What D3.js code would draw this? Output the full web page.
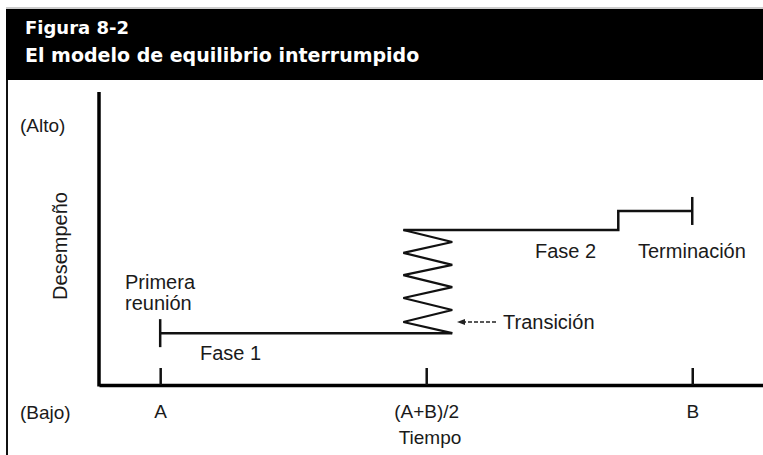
<!DOCTYPE html>
<html>
<head>
<meta charset="utf-8">
<script src="https://cdn.jsdelivr.net/npm/d3@7"></script>
<style>
  body { margin: 0; background: #fff; }
  svg text { font-family: "Liberation Sans", Arial, sans-serif; fill: #1a1a1a; }
</style>
</head>
<body>
<div id="chart"></div>
<script>
// time: A = 0, B = 1 ; performance: 0 (bajo) .. 1 (alto)
var tickValues = [0, 0.5, 1];
var tickLabels = ["A", "(A+B)/2", "B"];

var fase1 = [
  {t: 0, p: 0.177},
  {t: 0.549, p: 0.177}
];
var transicionT = [0.457, 0.549, 0.457, 0.549, 0.457, 0.549, 0.457, 0.549, 0.457, 0.549];
var transicionP = [0.529, 0.488, 0.451, 0.410, 0.375, 0.334, 0.297, 0.256, 0.215, 0.177];
var fase2 = [
  {t: 0.457, p: 0.529},
  {t: 0.861, p: 0.529},
  {t: 0.861, p: 0.594},
  {t: 1, p: 0.594}
];

var width = 763, height = 455;

var svg = d3.select("#chart")
  .append("svg")
    .attr("width", width)
    .attr("height", height);

// frame + title band
svg.append("line")
  .attr("x1", 7).attr("x2", 7)
  .attr("y1", 9).attr("y2", height)
  .style("stroke", "#111")
  .style("stroke-width", 2);

svg.append("line")
  .attr("x1", 6).attr("x2", width)
  .attr("y1", 8).attr("y2", 8)
  .style("stroke", "#999")
  .style("stroke-width", 1);

svg.append("rect")
  .attr("x", 6)
  .attr("y", 9)
  .attr("width", width - 6)
  .attr("height", 71)
  .style("fill", "#000");

svg.append("text")
  .attr("x", 25)
  .attr("y", 34)
  .style("font", "bold 18px 'DejaVu Sans', sans-serif")
  .style("fill", "#fff")
  .text("Figura 8-2");

svg.append("text")
  .attr("x", 25)
  .attr("y", 62)
  .style("font", "bold 19px 'DejaVu Sans', sans-serif")
  .style("fill", "#fff")
  .text("El modelo de equilibrio interrumpido");

// scales
var x = d3.scaleLinear().domain([-0.115, 1.133]).range([99, 763]);
var y = d3.scaleLinear().domain([0, 1]).range([385, 92]);

// y axis line
svg.append("line")
  .attr("x1", x(-0.115)).attr("x2", x(-0.115))
  .attr("y1", y(1)).attr("y2", y(0) + 1.5)
  .style("stroke", "#000")
  .style("stroke-width", 3.5);

// x axis
var xAxis = d3.axisBottom(x)
  .tickValues(tickValues)
  .tickFormat(function(d, i) { return tickLabels[i]; })
  .tickSizeInner(-17)
  .tickSizeOuter(0)
  .tickPadding(20);

var gx = svg.append("g")
  .attr("transform", "translate(0," + y(0) + ")")
  .call(xAxis);

gx.select(".domain")
  .style("stroke", "#000")
  .style("stroke-width", 3.5);
gx.selectAll(".tick line")
  .style("stroke", "#111")
  .style("stroke-width", 2.5);
gx.selectAll(".tick text")
  .style("font-size", "19px")
  .style("font-family", "'Liberation Sans', Arial, sans-serif")
  .style("fill", "#1a1a1a");

// axis titles
svg.append("text")
  .attr("x", 430)
  .attr("y", 444)
  .attr("text-anchor", "middle")
  .style("font-size", "19px")
  .text("Tiempo");

svg.append("text")
  .attr("transform", "translate(67," + 246 + ") rotate(-90)")
  .attr("text-anchor", "middle")
  .style("font-size", "20px")
  .text("Desempeño");

svg.append("text")
  .attr("x", 20)
  .attr("y", 132)
  .style("font-size", "19px")
  .text("(Alto)");

svg.append("text")
  .attr("x", 20)
  .attr("y", 419)
  .style("font-size", "19px")
  .text("(Bajo)");

// lines
var line = d3.line()
  .x(function(d) { return x(d.t); })
  .y(function(d) { return y(d.p); });

svg.append("path")
  .datum(fase1)
  .attr("d", line)
  .style("fill", "none")
  .style("stroke", "#111")
  .style("stroke-width", 2.5);

var zig = transicionT.map(function(t, i) { return {t: t, p: transicionP[i]}; });
svg.append("path")
  .datum(zig)
  .attr("d", line)
  .style("fill", "none")
  .style("stroke", "#111")
  .style("stroke-width", 2.2)
  .style("stroke-linejoin", "miter");

svg.append("path")
  .datum(fase2)
  .attr("d", line)
  .style("fill", "none")
  .style("stroke", "#111")
  .style("stroke-width", 2.5);

// end caps
var caps = [fase1[0], fase2[fase2.length - 1]];
svg.selectAll(".cap")
  .data(caps).enter()
  .append("line")
    .attr("class", "cap")
    .attr("x1", function(d) { return x(d.t); })
    .attr("x2", function(d) { return x(d.t); })
    .attr("y1", function(d) { return y(d.p) - 14; })
    .attr("y2", function(d) { return y(d.p) + 14; })
    .style("stroke", "#111")
    .style("stroke-width", 2.5);

// annotations
svg.append("text").attr("x", 125).attr("y", 289).style("font-size", "20px").text("Primera");
svg.append("text").attr("x", 125).attr("y", 310).style("font-size", "20px").text("reunión");
svg.append("text").attr("x", 200).attr("y", 360).style("font-size", "20px").text("Fase 1");
svg.append("text").attr("x", 535).attr("y", 258).style("font-size", "20px").text("Fase 2");
svg.append("text").attr("x", 638).attr("y", 258).style("font-size", "20px").text("Terminación");
svg.append("text").attr("x", 503).attr("y", 329).style("font-size", "20px").text("Transición");

svg.append("line")
  .attr("x1", 462).attr("x2", 498)
  .attr("y1", 322).attr("y2", 322)
  .style("stroke", "#222")
  .style("stroke-width", 1.3)
  .style("stroke-dasharray", "4,2");

svg.append("path")
  .attr("d", "M457,322 L465,319 L465,325 Z")
  .style("fill", "#222");
</script>
</body>
</html>
